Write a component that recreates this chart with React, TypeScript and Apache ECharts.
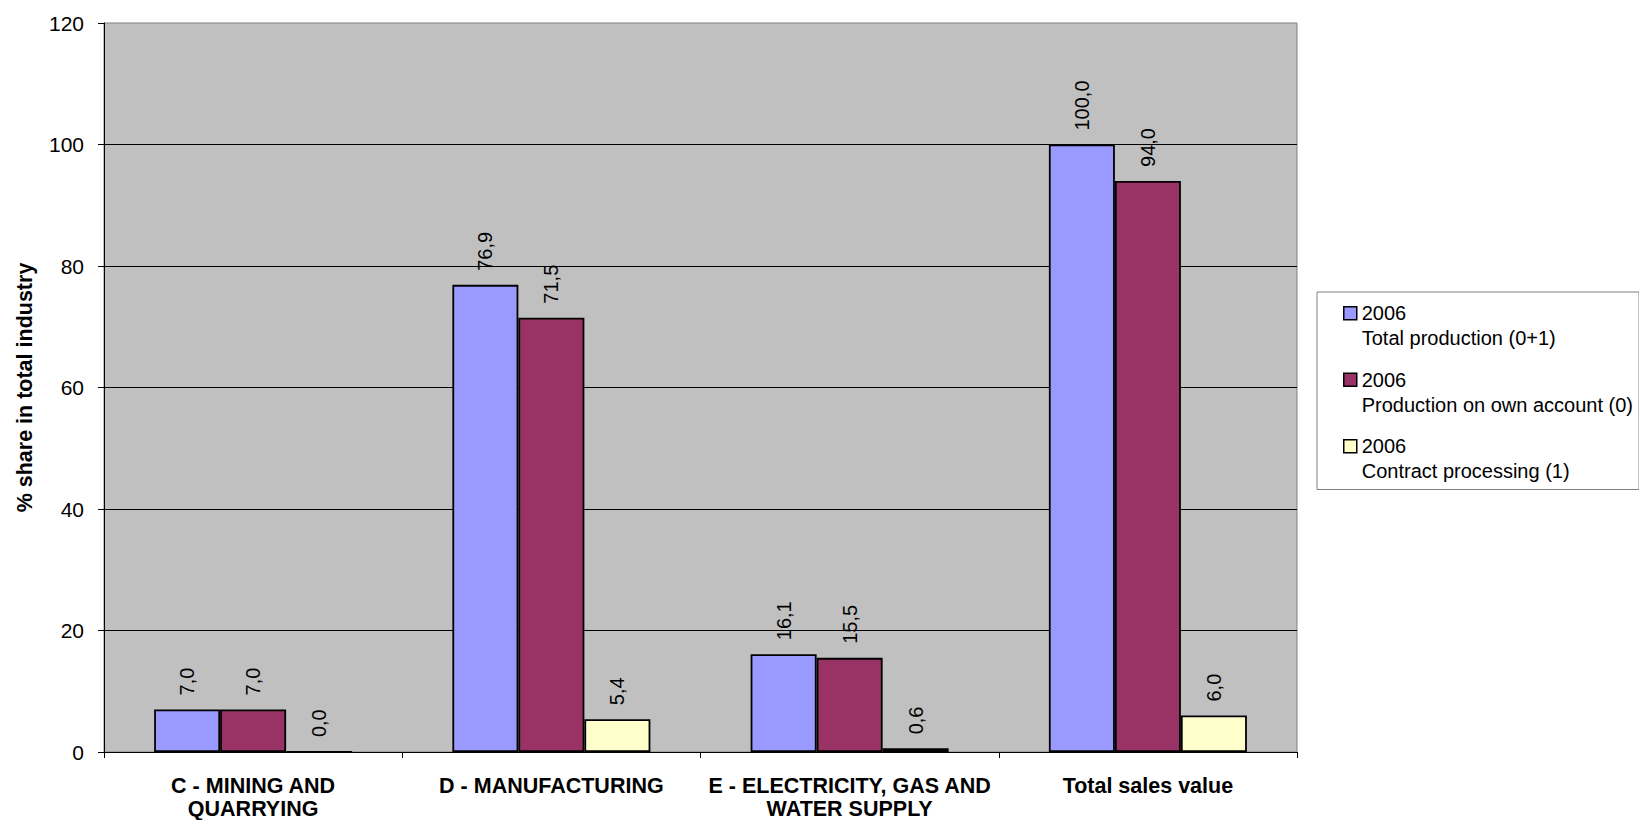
import React, { useEffect, useRef } from "react";
import * as echarts from "echarts";

const categories = [
  "C - MINING AND\nQUARRYING",
  "D - MANUFACTURING",
  "E - ELECTRICITY, GAS AND\nWATER SUPPLY",
  "Total sales value",
];
const seriesNames = [
  "2006\nTotal production (0+1)",
  "2006\nProduction on own account (0)",
  "2006\nContract processing (1)",
];
const totalProduction = [7.0, 76.9, 16.1, 100.0];
const ownAccount = [7.0, 71.5, 15.5, 94.0];
const contractProcessing = [0.0, 5.4, 0.6, 6.0];
const seriesColors = ["#9999FF", "#993366", "#FFFFCC"];
const yMin = 0;
const yMax = 120;
const yInterval = 20;
const yTitle = "% share in total industry";

const FONT = "'Liberation Sans', Arial, sans-serif";

export default function App() {
  const ref = useRef<HTMLDivElement>(null);

  useEffect(() => {
    document.body.style.margin = "0";
    if (!ref.current) return;
    const chart = echarts.init(ref.current, null, { renderer: "svg" });
    const values = [totalProduction, ownAccount, contractProcessing];
    chart.setOption({
      animation: false,
      backgroundColor: "#ffffff",
      textStyle: { fontFamily: FONT, color: "#000" },
      grid: {
        left: 104,
        right: 342,
        top: 23,
        bottom: 68,
        show: true,
        backgroundColor: "#C0C0C0",
        borderColor: "#808080",
        borderWidth: 1,
        containLabel: false,
        outerBoundsMode: "none",
      },
      legend: {
        orient: "vertical",
        left: 1317,
        top: 292,
        padding: [8, 6, 5, 26],
        itemGap: 15,
        itemWidth: 13,
        itemHeight: 50,
        icon: "path://M0,6H13V19H0Z M0,0 M0,50",
        backgroundColor: "#ffffff",
        borderColor: "#808080",
        borderWidth: 1,
        itemStyle: { borderColor: "#000", borderWidth: 1.5 },
        textStyle: { fontSize: 20, lineHeight: 25, color: "#000", fontFamily: FONT },
        data: seriesNames,
      },
      xAxis: {
        type: "category",
        data: categories,
        axisLine: { lineStyle: { color: "#000", width: 1 } },
        axisTick: { show: true, length: 6, lineStyle: { color: "#000" } },
        axisLabel: {
          fontSize: 21.5,
          fontWeight: "bold",
          lineHeight: 23,
          margin: 22,
          color: "#000",
          fontFamily: FONT,
          interval: 0,
        },
      },
      yAxis: {
        type: "value",
        min: yMin,
        max: yMax,
        interval: yInterval,
        name: yTitle,
        nameLocation: "middle",
        nameGap: 68,
        nameRotate: 90,
        nameTextStyle: { fontSize: 21.5, fontWeight: "bold", color: "#000", fontFamily: FONT },
        axisLine: { show: true, lineStyle: { color: "#000", width: 1 } },
        axisTick: { show: true, length: 6, lineStyle: { color: "#000" } },
        axisLabel: { fontSize: 21, margin: 20, color: "#000", fontFamily: FONT },
        splitLine: { show: true, showMaxLine: false, lineStyle: { color: "#000", width: 1 } },
      },
      series: seriesNames.map((name, i) => ({
        name,
        type: "bar",
        data: values[i],
        barWidth: 66,
        barGap: "0%",
        itemStyle: { color: seriesColors[i], borderColor: "#000", borderWidth: 1.8 },
        label: {
          show: true,
          position: "top",
          rotate: 90,
          align: "left",
          verticalAlign: "middle",
          distance: 14,
          fontSize: 20,
          color: "#000",
          fontFamily: FONT,
          formatter: (p: any) => Number(p.value).toFixed(1).replace(".", ","),
        },
      })),
    });
    return () => chart.dispose();
  }, []);

  return (
    <div
      ref={ref}
      style={{ position: "fixed", left: 0, top: 0, width: 1639, height: 820 }}
    />
  );
}
